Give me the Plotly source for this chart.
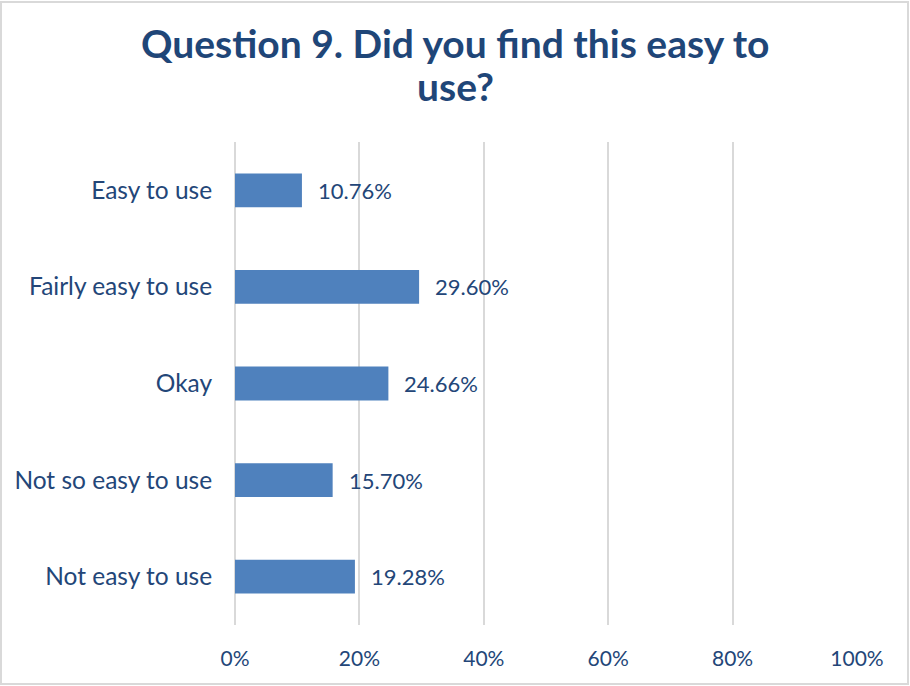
import plotly.graph_objects as go

categories = ["Easy to use", "Fairly easy to use", "Okay", "Not so easy to use", "Not easy to use"]
values = [10.76, 29.60, 24.66, 15.70, 19.28]
tick_vals = [0, 20, 40, 60, 80, 100]
tick_text = ["0%", "20%", "40%", "60%", "80%", "100%"]
title_lines = ["Question 9. Did you find this easy to", "use?"]

W, H = 910, 686
ML, MR, MT, MB = 235, 53, 142, 61
PW, PH = W - ML - MR, H - MT - MB

font_family = "Lato, Noto Sans, sans-serif"
text_color = "#234678"

fig = go.Figure(go.Bar(
    y=categories, x=values, orientation="h",
    marker=dict(color="#4F81BD", line=dict(width=0)),
    width=0.35,
))

annotations = []
for c, v in zip(categories, values):
    annotations.append(dict(x=v, y=c, xref="x", yref="y", text=f"{v:.2f}%",
                            showarrow=False, xanchor="left", xshift=14,
                            font=dict(size=22, color=text_color, family=font_family)))

for line, yc in zip(title_lines, [43, 86]):
    annotations.append(dict(x=(W / 2 - ML) / PW, y=1 + (MT - yc) / PH, xref="paper", yref="paper",
                            xanchor="center", yanchor="middle", showarrow=False,
                            text=f"<b>{line}</b>",
                            font=dict(size=39, color="#1F4678", family=font_family)))

fig.update_layout(
    width=W, height=H,
    margin=dict(l=ML, r=MR, t=MT, b=MB, autoexpand=False),
    paper_bgcolor="white", plot_bgcolor="white",
    xaxis=dict(range=[0, 100], tickvals=tick_vals, ticktext=tick_text,
               showgrid=True, gridcolor="#D9D9D9", gridwidth=2,
               zeroline=True, zerolinecolor="#D9D9D9", zerolinewidth=2,
               showline=False, automargin=False,
               ticks="outside", ticklen=15, tickcolor="rgba(0,0,0,0)",
               tickfont=dict(size=21, color=text_color, family=font_family),
               fixedrange=True),
    yaxis=dict(categoryorder="array", categoryarray=categories[::-1],
               showgrid=False, zeroline=False, showline=False, automargin=False,
               ticks="outside", ticklen=17, tickcolor="rgba(0,0,0,0)",
               tickfont=dict(size=24.5, color=text_color, family=font_family)),
    annotations=annotations,
    showlegend=False,
    shapes=[dict(type="rect", xref="paper", yref="paper",
                 x0=(1 - ML) / PW, x1=(W - 2 - ML) / PW,
                 y0=-(MB - 2) / PH, y1=1 + (MT - 2) / PH,
                 line=dict(color="#D9D9D9", width=2), fillcolor="rgba(0,0,0,0)",
                 layer="below")],
)

fig.write_html("out.html")
